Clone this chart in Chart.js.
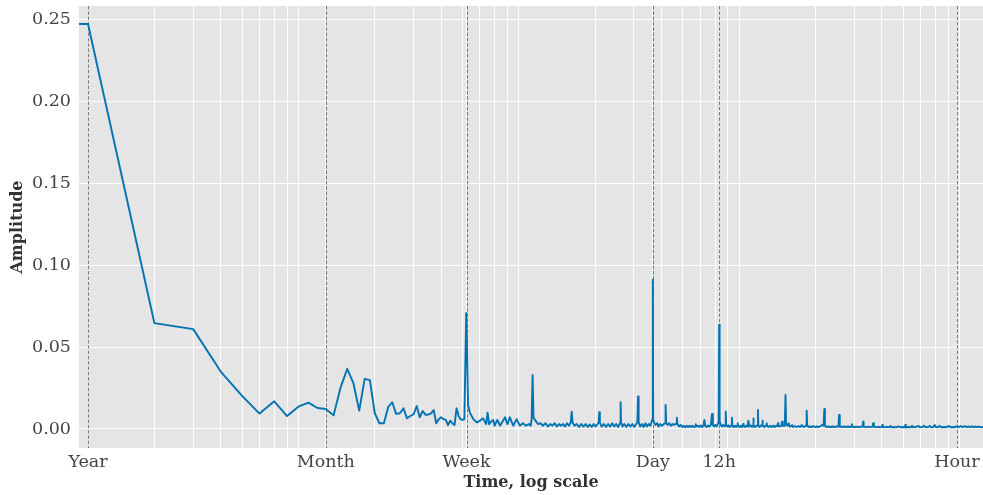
<!DOCTYPE html>
<html><head><meta charset="utf-8">
<script src="https://cdn.jsdelivr.net/npm/chart.js@4/dist/chart.umd.min.js"></script>
<style>html,body{margin:0;padding:0;background:#fff;}canvas{display:block;}</style>
</head><body>
<canvas id="c" width="983" height="495"></canvas>
<script>
// Frequency in cycles per year (log axis), amplitude of spectrum
const frequency = [
  0.91, 1, 2, 3, 4, 5, 6, 7, 8, 9,
  10, 11, 12, 13, 14, 15, 16, 17, 18, 19,
  20, 21, 22, 23, 24, 25, 26, 27, 28, 29,
  30, 31, 32, 33, 34, 35, 36, 37, 38, 39,
  40, 41, 42, 43, 44, 45, 46, 47, 48, 49,
  50, 51, 52, 53, 54, 55, 56, 58, 60, 62,
  64, 65, 66, 68, 69, 70, 72, 74, 76, 78,
  80, 82, 85, 88, 91, 94, 97, 100, 102, 103,
  104, 105, 106, 108, 110, 113, 116, 119, 122, 125,
  128, 131, 134, 137, 140, 143, 146, 149, 152, 155,
  156.5, 158, 161, 165, 169, 173, 177, 181, 185, 189,
  193, 197, 201, 205, 207.5, 208.7, 210, 214, 219, 224,
  229, 234, 239, 244, 249, 254, 258, 259.8, 260.9, 262,
  266, 271, 277, 283, 289, 295, 301, 307, 311, 313,
  315, 320, 326, 332, 338, 344, 350, 356, 361, 364,
  365.25, 366.5, 370, 376, 382, 388, 395, 402, 409, 415,
  417.4, 420, 427, 434, 441, 448, 455, 462, 467, 469.6,
  472, 480, 488, 496, 504, 512, 520, 528, 536, 544,
  552, 560, 568, 571.9, 576, 585, 594, 603, 612, 620,
  626, 631, 640, 650, 660, 670, 678, 684, 693, 702,
  711, 720, 727, 730.5, 734, 742, 752, 762, 772, 779,
  782.6, 786, 795, 805, 815, 825, 832, 835, 838, 848,
  860, 872, 883, 887, 891, 902, 914, 926, 935, 939,
  943, 955, 968, 982, 991, 1000, 1015, 1030, 1041, 1044,
  1048, 1062, 1078, 1092, 1096, 1100, 1115, 1130, 1144, 1148,
  1153, 1170, 1185, 1198, 1201, 1205, 1225, 1245, 1265, 1285,
  1305, 1325, 1345, 1352, 1358, 1380, 1400, 1410, 1418, 1440,
  1450, 1461, 1470, 1490, 1510, 1525, 1550, 1565, 1580, 1610,
  1640, 1670, 1700, 1730, 1760, 1790, 1810, 1818, 1826, 1834,
  1860, 1890, 1920, 1950, 1990, 2030, 2070, 2110, 2150, 2175,
  2191.5, 2205, 2240, 2290, 2340, 2390, 2440, 2490, 2540, 2557,
  2575, 2630, 2690, 2750, 2810, 2870, 2905, 2922, 2940, 3000,
  3070, 3140, 3210, 3270, 3287, 3305, 3380, 3460, 3540, 3620,
  3652, 3680, 3760, 3850, 3940, 4000, 4018, 4040, 4130, 4230,
  4330, 4383, 4430, 4540, 4650, 4748, 4850, 4970, 5090, 5113,
  5140, 5280, 5420, 5479, 5540, 5700, 5844, 5950, 6100, 6209,
  6320, 6480, 6575, 6700, 6850, 6940, 7050, 7200, 7305, 7450,
  7650, 7850, 8036, 8200, 8400, 8600, 8766, 8900, 9131, 9300,
  9496, 9700, 9862, 10050, 10227, 10400, 10592, 10800, 10957, 11200,
  11500
];
const amplitude = [
  0.247, 0.247, 0.0646, 0.0609, 0.035, 0.0202, 0.0094, 0.0169, 0.0079, 0.0136,
  0.0161, 0.0128, 0.0122, 0.0083, 0.0254, 0.0367, 0.0279, 0.0112, 0.0306, 0.0298,
  0.0096, 0.0035, 0.0035, 0.0133, 0.0163, 0.0092, 0.0096, 0.0126, 0.0065, 0.0079,
  0.0090, 0.0140, 0.0071, 0.0110, 0.0086, 0.0088, 0.0095, 0.0116, 0.0035, 0.0060,
  0.0071, 0.0060, 0.0055, 0.0024, 0.0051, 0.0035, 0.0024, 0.0126, 0.0080, 0.0060,
  0.0055, 0.0060, 0.0707, 0.0147, 0.0100, 0.0080, 0.0060, 0.0040, 0.0050, 0.0065,
  0.0030, 0.0100, 0.0030, 0.0050, 0.0055, 0.0020, 0.0055, 0.0020, 0.0045, 0.0071,
  0.0030, 0.0071, 0.0020, 0.0060, 0.0020, 0.0035, 0.0020, 0.0030, 0.0020, 0.0060,
  0.0330, 0.0070, 0.0060, 0.0045, 0.0030, 0.0035, 0.0020, 0.0035, 0.0015, 0.0030,
  0.0020, 0.0035, 0.0015, 0.0030, 0.0020, 0.0030, 0.0015, 0.0035, 0.0020, 0.0040,
  0.0105, 0.0040, 0.0020, 0.0030, 0.0012, 0.0030, 0.0015, 0.0030, 0.0012, 0.0028,
  0.0012, 0.0030, 0.0015, 0.0030, 0.0040, 0.0102, 0.0040, 0.0015, 0.0030, 0.0012,
  0.0030, 0.0015, 0.0035, 0.0015, 0.0030, 0.0012, 0.0030, 0.0040, 0.0163, 0.0040,
  0.0015, 0.0030, 0.0012, 0.0030, 0.0015, 0.0030, 0.0012, 0.0030, 0.0045, 0.0198,
  0.0040, 0.0015, 0.0030, 0.0012, 0.0035, 0.0015, 0.0030, 0.0020, 0.0045, 0.0060,
  0.0911, 0.0060, 0.0040, 0.0025, 0.0035, 0.0015, 0.0030, 0.0020, 0.0030, 0.0035,
  0.0147, 0.0035, 0.0025, 0.0035, 0.0020, 0.0030, 0.0025, 0.0030, 0.0030, 0.0069,
  0.0030, 0.0015, 0.0025, 0.0012, 0.0020, 0.0010, 0.0020, 0.0012, 0.0020, 0.0012,
  0.0020, 0.0012, 0.0015, 0.0029, 0.0015, 0.0020, 0.0012, 0.0022, 0.0012, 0.0020,
  0.0055, 0.0020, 0.0012, 0.0022, 0.0015, 0.0025, 0.0092, 0.0025, 0.0015, 0.0025,
  0.0015, 0.0030, 0.0045, 0.0636, 0.0045, 0.0025, 0.0015, 0.0025, 0.0015, 0.0025,
  0.0106, 0.0025, 0.0015, 0.0022, 0.0012, 0.0020, 0.0020, 0.0069, 0.0020, 0.0012,
  0.0020, 0.0012, 0.0020, 0.0035, 0.0018, 0.0012, 0.0020, 0.0012, 0.0020, 0.0030,
  0.0018, 0.0012, 0.0020, 0.0015, 0.0051, 0.0015, 0.0022, 0.0012, 0.0020, 0.0065,
  0.0020, 0.0012, 0.0020, 0.0020, 0.0116, 0.0020, 0.0012, 0.0022, 0.0020, 0.0051,
  0.0020, 0.0012, 0.0020, 0.0020, 0.0035, 0.0018, 0.0012, 0.0020, 0.0012, 0.0020,
  0.0012, 0.0020, 0.0018, 0.0035, 0.0018, 0.0015, 0.0020, 0.0045, 0.0020, 0.0020,
  0.0030, 0.0208, 0.0030, 0.0020, 0.0035, 0.0015, 0.0018, 0.0024, 0.0012, 0.0018,
  0.0012, 0.0018, 0.0012, 0.0024, 0.0012, 0.0015, 0.0024, 0.0020, 0.0112, 0.0020,
  0.0012, 0.0015, 0.0012, 0.0018, 0.0012, 0.0015, 0.0012, 0.0018, 0.0025, 0.0020,
  0.0122, 0.0020, 0.0012, 0.0015, 0.0012, 0.0015, 0.0012, 0.0015, 0.0015, 0.0086,
  0.0015, 0.0012, 0.0015, 0.0012, 0.0015, 0.0012, 0.0015, 0.0029, 0.0013, 0.0012,
  0.0014, 0.0011, 0.0014, 0.0015, 0.0045, 0.0014, 0.0011, 0.0014, 0.0011, 0.0014,
  0.0035, 0.0013, 0.0011, 0.0013, 0.0011, 0.0013, 0.0024, 0.0012, 0.0011, 0.0013,
  0.0011, 0.0018, 0.0011, 0.0012, 0.0010, 0.0016, 0.0011, 0.0012, 0.0011, 0.0024,
  0.0011, 0.0012, 0.0011, 0.0020, 0.0011, 0.0012, 0.0019, 0.0011, 0.0012, 0.0020,
  0.0011, 0.0012, 0.0019, 0.0011, 0.0012, 0.0024, 0.0011, 0.0012, 0.0019, 0.0011,
  0.0012, 0.0011, 0.0018, 0.0011, 0.0012, 0.0011, 0.0018, 0.0011, 0.0017, 0.0011,
  0.0017, 0.0011, 0.0016, 0.0011, 0.0016, 0.0011, 0.0015, 0.0011, 0.0015, 0.0011,
  0.0012
];
const periodTicks = [1, 12, 52.18, 365.25, 730.5, 8766];
const periodLabels = ['Year', 'Month', 'Week', 'Day', '12h', 'Hour'];
const yTicks = [0, 0.05, 0.10, 0.15, 0.20, 0.25];

const points = frequency.map((f, i) => ({x: f, y: amplitude[i]}));

// minor log grid positions (2..9 x 10^n), like matplotlib minor ticks
const minorGrid = [];
for (let e = 0; e <= 3; e++) for (let m = 2; m <= 9; m++) minorGrid.push(m * Math.pow(10, e));

const bgPlugin = {
  id: 'bg',
  beforeDraw(chart) {
    const {ctx, chartArea: a} = chart;
    ctx.save(); ctx.fillStyle = '#E5E5E5';
    ctx.fillRect(a.left, a.top, a.right - a.left, a.bottom - a.top);
    ctx.restore();
  }
};
const vlinePlugin = {
  id: 'vlines',
  beforeDatasetsDraw(chart) {
    const {ctx, chartArea: a, scales: {x}} = chart;
    ctx.save();
    ctx.strokeStyle = 'rgba(0,0,0,0.5)'; ctx.lineWidth = 1; ctx.setLineDash([3.7, 1.6]);
    periodTicks.forEach(v => {
      const px = Math.round(x.getPixelForValue(v)) + 0.5;
      ctx.beginPath(); ctx.moveTo(px, a.top); ctx.lineTo(px, a.bottom); ctx.stroke();
    });
    ctx.restore();
  }
};

const font = {family: "'DejaVu Serif', serif", size: 17.5};
const titleFont = {family: "'DejaVu Serif', serif", size: 16, weight: 'bold'};
new Chart(document.getElementById('c'), {
  type: 'line',
  data: {datasets: [{data: points, borderColor: '#0173B2', borderWidth: 1.9, borderJoinStyle: 'round',
    pointRadius: 0, tension: 0, fill: false}]},
  options: {
    responsive: false, animation: false, devicePixelRatio: 1,
    layout: {padding: {top: 6, right: 0, left: 0, bottom: 0}},
    plugins: {legend: {display: false}, tooltip: {enabled: false}},
    scales: {
      x: {
        type: 'logarithmic', min: 0.91, max: 11500,
        afterBuildTicks(s) {
          s.ticks = periodTicks.concat(minorGrid).sort((a, b) => a - b).map(v => ({value: v}));
        },
        afterFit(s) { s.height = 47; s.paddingLeft = 0; s.paddingRight = 0; },
        ticks: {
          autoSkip: false, maxRotation: 0, padding: 4, color: '#444', font,
          callback(v) { const i = periodTicks.indexOf(v); return i >= 0 ? periodLabels[i] : ''; }
        },
        grid: {color: '#FFFFFF', lineWidth: 1, drawTicks: false},
        border: {display: false},
        title: {display: true, text: 'Time, log scale', color: '#333', font: titleFont, padding: {top: 0, bottom: 3}}
      },
      y: {
        min: -0.0116, max: 0.258,
        afterBuildTicks(s) { s.ticks = yTicks.map(v => ({value: v})); },
        afterFit(s) { s.width = 79; s.paddingTop = 0; s.paddingBottom = 0; },
        ticks: {padding: 8, color: '#444', font, callback: v => Number(v).toFixed(2)},
        grid: {color: '#FFFFFF', lineWidth: 1, drawTicks: false},
        border: {display: false},
        title: {display: true, text: 'Amplitude', color: '#333', font: titleFont, padding: {top: 8, bottom: 0}}
      }
    }
  },
  plugins: [bgPlugin, vlinePlugin]
});
</script>
</body></html>
